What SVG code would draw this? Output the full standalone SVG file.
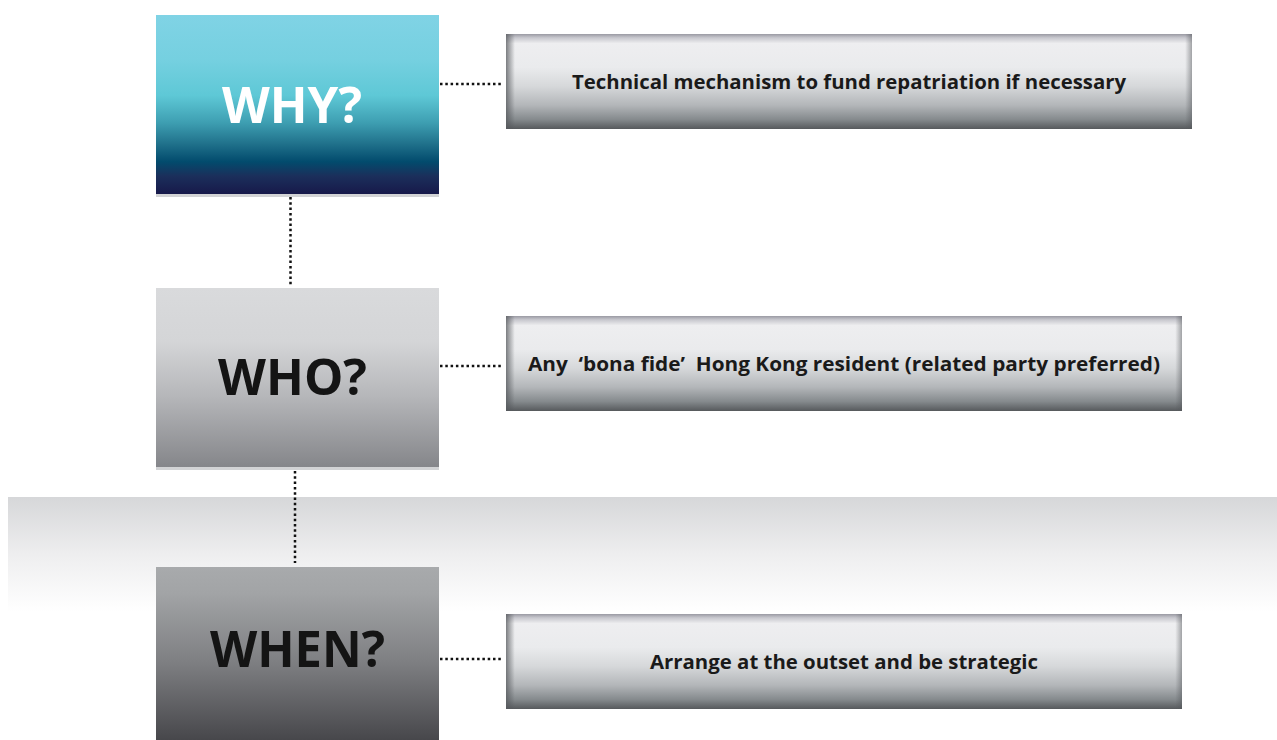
<svg xmlns="http://www.w3.org/2000/svg" width="1277" height="740" viewBox="0 0 1277 740">
<defs>
<style>
.big{font-family:"Open Sans","Liberation Sans",sans-serif;font-weight:700;font-size:50px;text-anchor:middle}
.lbl{font-family:"Open Sans","Liberation Sans",sans-serif;font-weight:700;font-size:19.5px;fill:#1a1a1a;text-anchor:middle}
.dot{stroke:#111111;stroke-width:2.5;stroke-dasharray:2.5 2.8;fill:none}
.strip{fill:#d2d3d5}
</style>
<linearGradient id="gWhy" x1="0" y1="0" x2="0" y2="1">
<stop offset="0" stop-color="#80d3e5"/>
<stop offset="0.25" stop-color="#75d0e0"/>
<stop offset="0.45" stop-color="#5ec8d6"/>
<stop offset="0.6" stop-color="#3e9fb2"/>
<stop offset="0.72" stop-color="#20718b"/>
<stop offset="0.82" stop-color="#024b6d"/>
<stop offset="0.9" stop-color="#1b2f5b"/>
<stop offset="1" stop-color="#17194a"/>
</linearGradient>
<linearGradient id="gWho" x1="0" y1="0" x2="0" y2="1">
<stop offset="0" stop-color="#d9dadc"/>
<stop offset="0.3" stop-color="#d4d5d7"/>
<stop offset="0.6" stop-color="#b6b7ba"/>
<stop offset="1" stop-color="#85868a"/>
</linearGradient>
<linearGradient id="gWhen" x1="0" y1="0" x2="0" y2="1">
<stop offset="0" stop-color="#a8aaac"/>
<stop offset="0.15" stop-color="#a2a4a6"/>
<stop offset="0.55" stop-color="#7e7f82"/>
<stop offset="1" stop-color="#47474b"/>
</linearGradient>
<linearGradient id="gBand" x1="0" y1="0" x2="0" y2="1">
<stop offset="0" stop-color="#d6d7d9"/>
<stop offset="0.5" stop-color="#eeeeef"/>
<stop offset="1" stop-color="#ffffff"/>
</linearGradient>
<linearGradient id="gBar" x1="0" y1="0" x2="0" y2="1">
<stop offset="0" stop-color="#9a9aa3"/>
<stop offset="0.04" stop-color="#c8c8ce"/>
<stop offset="0.1" stop-color="#eeeef0"/>
<stop offset="0.35" stop-color="#eaebed"/>
<stop offset="0.55" stop-color="#d6d8da"/>
<stop offset="0.75" stop-color="#b3b6b9"/>
<stop offset="0.9" stop-color="#858a8d"/>
<stop offset="1" stop-color="#56595c"/>
</linearGradient>
<linearGradient id="gEdge" x1="0" y1="0" x2="1" y2="0">
<stop offset="0" stop-color="#55585c" stop-opacity="0.75"/>
<stop offset="0.013" stop-color="#55585c" stop-opacity="0"/>
<stop offset="0.99" stop-color="#55585c" stop-opacity="0"/>
<stop offset="1" stop-color="#55585c" stop-opacity="0.5"/>
</linearGradient>
</defs>
<rect width="1277" height="740" fill="#ffffff"/>
<rect x="8" y="497" width="1269" height="115" fill="url(#gBand)"/>

<g id="connectors">
<line class="dot" x1="440" y1="84" x2="503" y2="84"/>
<line class="dot" x1="440" y1="366" x2="503" y2="366"/>
<line class="dot" x1="440" y1="659" x2="503" y2="659"/>
<line class="dot" x1="290.5" y1="197" x2="290.5" y2="286"/>
<line class="dot" x1="295" y1="471" x2="295" y2="563"/>
</g>

<g id="why">
<rect x="156" y="15" width="283" height="179" fill="url(#gWhy)"/>
<rect class="strip" x="156" y="194" width="283" height="3"/>
<text class="big" x="292" y="123" fill="#ffffff" textLength="140" lengthAdjust="spacingAndGlyphs">WHY?</text>
</g>

<g id="who">
<rect x="156" y="288" width="283" height="179" fill="url(#gWho)"/>
<rect class="strip" x="156" y="467" width="283" height="3"/>
<text class="big" x="292.5" y="395" fill="#141414" textLength="149" lengthAdjust="spacingAndGlyphs">WHO?</text>
</g>

<g id="when">
<rect x="156" y="567" width="283" height="173" fill="url(#gWhen)"/>
<text class="big" x="297.5" y="667" fill="#141414" textLength="175" lengthAdjust="spacingAndGlyphs">WHEN?</text>
</g>

<g id="why-answer">
<rect x="506" y="34" width="686" height="95" fill="url(#gBar)"/>
<rect x="506" y="34" width="686" height="95" fill="url(#gEdge)"/>
<text class="lbl" x="849" y="89" textLength="554" lengthAdjust="spacingAndGlyphs">Technical mechanism to fund repatriation if necessary</text>
</g>

<g id="who-answer">
<rect x="506" y="316" width="676" height="95" fill="url(#gBar)"/>
<rect x="506" y="316" width="676" height="95" fill="url(#gEdge)"/>
<text class="lbl" x="844" y="371" textLength="632" lengthAdjust="spacingAndGlyphs" xml:space="preserve">Any  ‘bona fide’  Hong Kong resident (related party preferred)</text>
</g>

<g id="when-answer">
<rect x="506" y="614" width="676" height="95" fill="url(#gBar)"/>
<rect x="506" y="614" width="676" height="95" fill="url(#gEdge)"/>
<text class="lbl" x="844" y="669" textLength="388" lengthAdjust="spacingAndGlyphs">Arrange at the outset and be strategic</text>
</g>
</svg>
